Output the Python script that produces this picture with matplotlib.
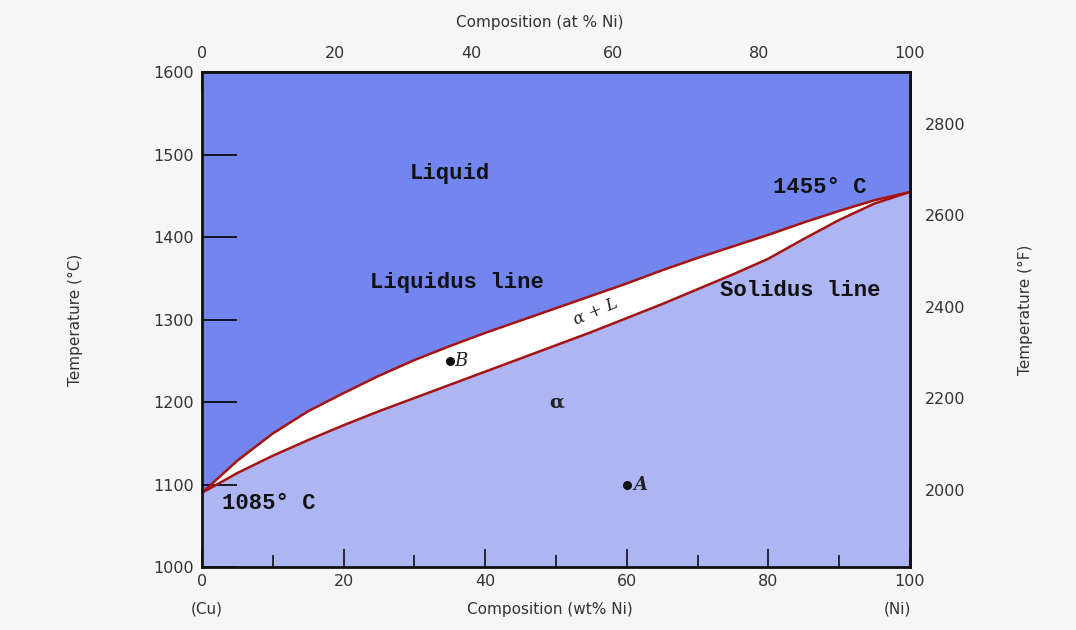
"""Cu-Ni binary phase diagram (isomorphous system)."""

import numpy as np
import matplotlib.pyplot as plt
from matplotlib.ticker import FixedLocator

# composition (wt% Ni) and temperatures (deg C)
wt_ni = [0, 5, 10, 15, 20, 25, 30, 35, 40, 45, 50,
         55, 60, 65, 70, 75, 80, 85, 90, 95, 100]
liquidus = [1090, 1129, 1162, 1189, 1211, 1232, 1251, 1268, 1284, 1299, 1314,
            1329, 1344, 1360, 1375, 1389, 1403, 1418, 1432, 1445, 1455]
solidus = [1090, 1114, 1135, 1154, 1172, 1189, 1205, 1221, 1237, 1253, 1269,
           1285, 1302, 1319, 1337, 1355, 1374, 1398, 1421, 1441, 1455]

point_b = (35, 1250)
point_a = (60, 1100)

c_ticks = [1000, 1100, 1200, 1300, 1400, 1500, 1600]
f_major = [2000, 2200, 2400, 2600, 2800]
f_minor = [1900, 2100, 2300, 2500, 2700, 2900]
comp_major = [0, 20, 40, 60, 80, 100]
comp_minor = [10, 30, 50, 70, 90]

LIQUID = "#7386f0"
ALPHA = "#adb5f2"
LINE = "#a51212"
MONO = "Liberation Mono"


def wt_to_at(w):
    w = np.asarray(w, dtype=float)
    n_ni = w / 58.69
    n_cu = (100 - w) / 63.55
    return 100 * n_ni / np.maximum(n_ni + n_cu, 1e-9)


def at_to_wt(a):
    a = np.asarray(a, dtype=float)
    m_ni = a * 58.69
    m_cu = (100 - a) * 63.55
    return 100 * m_ni / np.maximum(m_ni + m_cu, 1e-9)


def main() -> None:
    fig = plt.figure(figsize=(10.76, 6.3), dpi=100, facecolor="#f6f6f6")
    ax = fig.add_axes([0.1877, 0.1, 0.658, 0.785])

    x = np.array(wt_ni)
    liq = np.array(liquidus)
    sol = np.array(solidus)
    ax.fill_between(x, liq, 1600, color=LIQUID, lw=0)
    ax.fill_between(x, 1000, sol, color=ALPHA, lw=0)
    ax.fill_between(x, sol, liq, color="white", lw=0)
    ax.plot(x, liq, color=LINE, lw=1.8, solid_capstyle="round")
    ax.plot(x, sol, color=LINE, lw=1.8, solid_capstyle="round")

    ax.set_xlim(0, 100)
    ax.set_ylim(1000, 1600)
    for s in ax.spines.values():
        s.set_linewidth(2)
        s.set_color("#111111")

    ax.xaxis.set_major_locator(FixedLocator(comp_major))
    ax.xaxis.set_minor_locator(FixedLocator(comp_minor))
    ax.tick_params(axis="x", which="major", direction="in", length=13, width=1.1,
                   pad=5, labelsize=11.5, labelcolor="#333333")
    ax.tick_params(axis="x", which="minor", direction="in", length=8.5, width=1.1)

    ax.yaxis.set_major_locator(FixedLocator(c_ticks))
    ax.tick_params(axis="y", which="major", direction="in", length=25, width=1.2,
                   pad=6, labelsize=11.5, labelcolor="#333333")

    # top axis: atomic percent
    top = ax.secondary_xaxis("top", functions=(wt_to_at, at_to_wt))
    top.xaxis.set_major_locator(FixedLocator(comp_major))
    top.xaxis.set_minor_locator(FixedLocator(comp_minor))
    top.tick_params(axis="x", which="major", direction="in", length=14, width=1.2,
                    pad=8, labelsize=11.5, labelcolor="#333333")
    top.tick_params(axis="x", which="minor", direction="in", length=9, width=1.1)
    top.spines["top"].set_linewidth(2)

    # right axis: Fahrenheit
    right = ax.secondary_yaxis("right", functions=(lambda c: c * 9 / 5 + 32,
                                                  lambda f: (f - 32) * 5 / 9))
    right.yaxis.set_major_locator(FixedLocator(f_major))
    right.yaxis.set_minor_locator(FixedLocator(f_minor))
    right.tick_params(axis="y", which="major", direction="in", length=22, width=1.1,
                      pad=11, labelsize=11.5, labelcolor="#333333")
    right.tick_params(axis="y", which="minor", direction="in", length=10, width=1.1)
    right.spines["right"].set_linewidth(2)

    # axis titles
    fig.text(0.502, 0.965, "Composition (at % Ni)", ha="center", va="center",
             fontsize=11, color="#333333")
    fig.text(0.511, 0.033, "Composition (wt% Ni)", ha="center", va="center",
             fontsize=11, color="#333333")
    fig.text(0.192, 0.033, "(Cu)", ha="center", va="center", fontsize=11, color="#333333")
    fig.text(0.834, 0.033, "(Ni)", ha="center", va="center", fontsize=11, color="#333333")
    fig.text(0.070, 0.492, "Temperature (°C)", rotation=90, ha="center", va="center",
             fontsize=11, color="#333333")
    fig.text(0.953, 0.508, "Temperature (°F)", rotation=90, ha="center", va="center",
             fontsize=11, color="#333333")

    # region labels
    mono = dict(family=MONO, weight="bold", fontsize=16, ha="center", va="center",
                color="#111111")
    ax.text(35, 1478, "Liquid", **mono)
    ax.text(36, 1345, "Liquidus line", **mono)
    ax.text(84.5, 1335, "Solidus line", **mono)
    ax.text(87.3, 1461, "1455° C", **mono)
    ax.text(9.5, 1077, "1085° C", **mono)

    serif = dict(family="DejaVu Serif", ha="center", va="center", color="#222222")
    ax.text(55.6, 1310, "α + L", style="italic", fontsize=12, rotation=23, **serif)
    ax.text(50.1, 1199, "α", fontsize=14, weight="bold", **serif)

    ax.plot(*point_b, "o", color="#111111", ms=5.5)
    ax.plot(*point_a, "o", color="#111111", ms=5.5)
    ax.annotate("B", point_b, xytext=(8, 0), textcoords="offset points",
                style="italic", fontsize=13, **serif)
    ax.annotate("A", point_a, xytext=(10, 0), textcoords="offset points",
                style="italic", fontsize=13, weight="bold", **serif)

    fig.savefig("out.png", dpi=100, facecolor=fig.get_facecolor())
    plt.close(fig)


if __name__ == "__main__":
    main()
